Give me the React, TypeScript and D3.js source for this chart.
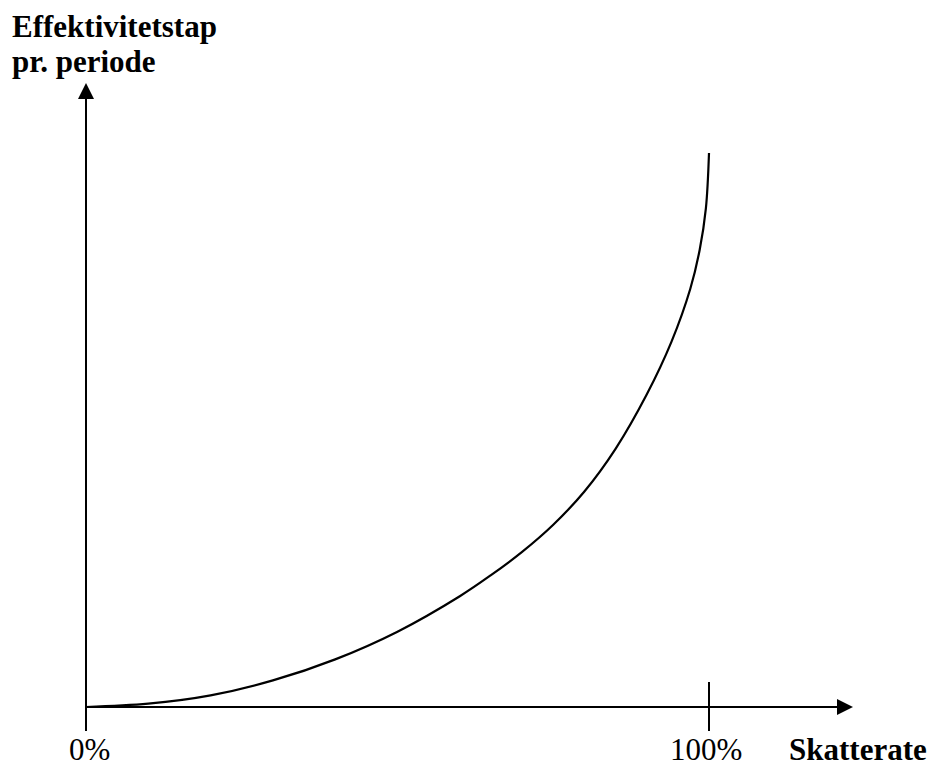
import React from "react";
import * as d3 from "d3";

// Tax rate (fraction of 100%) and efficiency loss per period (arbitrary units, 100 = top of curve)
const taxRates = [0, 0.1, 0.2, 0.3, 0.4, 0.5, 0.6, 0.65, 0.7, 0.75, 0.8, 0.85, 0.9, 0.94, 0.97, 0.985, 0.995, 1.0];
const losses = [0, 0.6, 2.1, 4.8, 8.6, 13.6, 20.0, 23.8, 28.0, 32.9, 38.9, 46.6, 56.4, 66.0, 75.5, 82.5, 90.0, 100];
const xTickValues = [0, 1];
const xTickLabels = ["0%", "100%"];
const yTitleLines = ["Effektivitetstap", "pr. periode"];
const xTitle = "Skatterate";

const W = 936;
const H = 771;

export default function App() {
  const x = d3.scaleLinear().domain([0, 1]).range([86, 709]);
  const y = d3.scaleLinear().domain([0, 100]).range([707, 153]);

  const pts: [number, number][] = taxRates.map((t, i) => [t, losses[i]]);
  const line = d3
    .line<[number, number]>()
    .x((d) => x(d[0]))
    .y((d) => y(d[1]))
    .curve(d3.curveCatmullRom.alpha(0.5));

  const x0 = x(0);
  const y0 = y(0);
  const font = "'Liberation Serif', 'Times New Roman', serif";

  return (
    <svg
      width={W}
      height={H}
      viewBox={`0 0 ${W} ${H}`}
      style={{ position: "absolute", left: 0, top: 0, background: "#fff" }}
    >
      <rect x={0} y={0} width={W} height={H} fill="#fff" />
      {/* Y axis */}
      <line x1={x0} y1={731} x2={x0} y2={98} stroke="#000" strokeWidth={2} />
      <path d={`M${x0},83 L${x0 - 8},99 L${x0 + 8},99 Z`} fill="#000" />
      {/* X axis */}
      <line x1={x0} y1={y0} x2={838} y2={y0} stroke="#000" strokeWidth={2} />
      <path d={`M853,${y0} L837,${y0 - 8} L837,${y0 + 8} Z`} fill="#000" />
      {/* tick at 100% */}
      <line x1={x(1)} y1={682} x2={x(1)} y2={731} stroke="#000" strokeWidth={2} />
      {/* curve */}
      <path d={line(pts) || ""} fill="none" stroke="#000" strokeWidth={2.2} />
      {/* tick labels */}
      {xTickValues.map((v, i) => (
        <text
          key={i}
          x={x(v) + (i === 0 ? -17 : -39)}
          y={760}
          fontFamily={font}
          fontSize={31}
          fill="#000"
        >
          {xTickLabels[i]}
        </text>
      ))}
      {/* x title */}
      <text x={789} y={760} fontFamily={font} fontSize={31} fontWeight="bold" fill="#000">
        {xTitle}
      </text>
      {/* y title */}
      {yTitleLines.map((s, i) => (
        <text
          key={i}
          x={12}
          y={37 + i * 35}
          fontFamily={font}
          fontSize={31}
          fontWeight="bold"
          fill="#000"
        >
          {s}
        </text>
      ))}
    </svg>
  );
}
